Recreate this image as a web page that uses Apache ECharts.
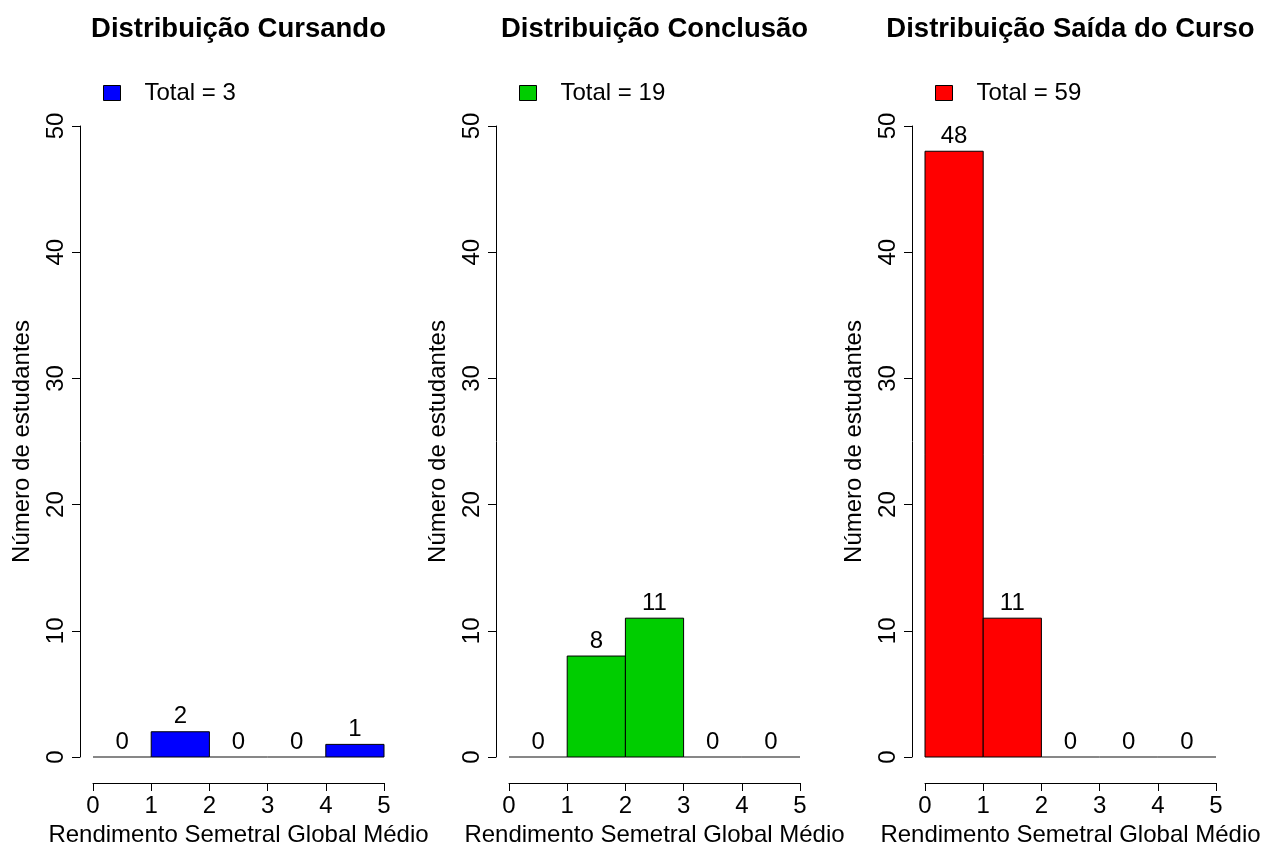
<!DOCTYPE html>
<html>
<head>
<meta charset="utf-8">
<script src="https://cdn.jsdelivr.net/npm/echarts@6/dist/echarts.min.js"></script>
<style>html,body{margin:0;padding:0;background:#fff}#c{width:1265px;height:848px}</style>
</head>
<body>
<div id="c"></div>
<script>
var binEdges = [0, 1, 2, 3, 4, 5];
var titles = ['Distribuição Cursando', 'Distribuição Conclusão', 'Distribuição Saída do Curso'];
var countsCursando = [0, 2, 0, 0, 1];
var countsConclusao = [0, 8, 11, 0, 0];
var countsSaida = [48, 11, 0, 0, 0];
var totals = [3, 19, 59];
var colors = ['#0000FF', '#00CD00', '#FF0000'];
var yTicks = [0, 10, 20, 30, 40, 50];
var xLabel = 'Rendimento Semetral Global Médio';
var yLabel = 'Número de estudantes';

var FONT = 'Liberation Sans, Arial, sans-serif';
var allCounts = [countsCursando, countsConclusao, countsSaida];
var panelLeft = [93, 509, 925];
var panelW = 291, gridTop = 126, gridH = 631;

var option = {
  animation: false,
  backgroundColor: '#fff',
  title: [], legend: [], grid: [], xAxis: [], yAxis: [], series: []
};

allCounts.forEach(function (counts, i) {
  var color = colors[i];
  var name = 'Total = ' + totals[i];
  option.title.push({
    text: titles[i], left: panelLeft[i] + panelW / 2, top: 15, textAlign: 'center', padding: 0,
    textStyle: { fontFamily: FONT, fontSize: 27.5, fontWeight: 'bold', color: '#000' }
  });
  option.legend.push({
    data: [name], left: panelLeft[i] + 10, top: 81, padding: 0,
    itemWidth: 17, itemHeight: 15, icon: 'rect',
    itemStyle: { borderColor: '#000', borderWidth: 1 },
    textStyle: { fontFamily: FONT, fontSize: 24, color: '#000', padding: [0, 0, 0, 19] }
  });
  option.grid.push({ left: panelLeft[i], top: gridTop, width: panelW, height: gridH,
    containLabel: false, outerBoundsMode: 'none' });
  option.xAxis.push({
    gridIndex: i, type: 'value', min: binEdges[0], max: binEdges[binEdges.length - 1], interval: 1,
    offset: 26, splitLine: { show: false },
    axisLine: { show: true, onZero: false, lineStyle: { color: '#000', width: 1 } },
    axisTick: { show: true, length: 8, lineStyle: { color: '#000' } },
    axisLabel: { fontFamily: FONT, fontSize: 24, color: '#000', margin: 11 },
    name: xLabel, nameLocation: 'middle', nameGap: 39,
    nameTextStyle: { fontFamily: FONT, fontSize: 24, color: '#000' }
  });
  option.yAxis.push({
    gridIndex: i, type: 'value', min: yTicks[0], max: yTicks[yTicks.length - 1], interval: 10,
    offset: 13, splitLine: { show: false },
    axisLine: { show: true, onZero: false, lineStyle: { color: '#000', width: 1 } },
    axisTick: { show: true, length: 8, lineStyle: { color: '#000' } },
    axisLabel: { fontFamily: FONT, fontSize: 24, color: '#000', rotate: 90, margin: 12 },
    name: yLabel, nameLocation: 'middle', nameGap: 46,
    nameTextStyle: { fontFamily: FONT, fontSize: 24, color: '#000' }
  });
  var data = counts.map(function (c, k) { return [binEdges[k], binEdges[k + 1], c]; });
  option.series.push({
    type: 'custom', name: name, xAxisIndex: i, yAxisIndex: i,
    itemStyle: { color: color },
    encode: { x: [0, 1], y: 2 },
    data: data,
    renderItem: function (params, api) {
      var x0 = api.value(0), x1 = api.value(1), c = api.value(2);
      var p0 = api.coord([x0, 0]), p1 = api.coord([x1, c]);
      var children = [];
      if (c > 0) {
        children.push({ type: 'rect', shape: { x: p0[0], y: p1[1], width: p1[0] - p0[0], height: p0[1] - p1[1] },
          style: { fill: color, stroke: '#000', lineWidth: 1 } });
      } else {
        children.push({ type: 'line', shape: { x1: p0[0], y1: p0[1], x2: p1[0], y2: p0[1] },
          style: { stroke: '#111', lineWidth: 1.2 } });
      }
      children.push({ type: 'text', style: { text: String(c), x: (p0[0] + p1[0]) / 2, y: p1[1] - 15,
        align: 'center', verticalAlign: 'middle', font: '24px ' + FONT, fill: '#000' } });
      return { type: 'group', children: children };
    }
  });
});

var chart = echarts.init(document.getElementById('c'), null, { renderer: 'canvas' });
chart.setOption(option);
</script>
</body>
</html>
